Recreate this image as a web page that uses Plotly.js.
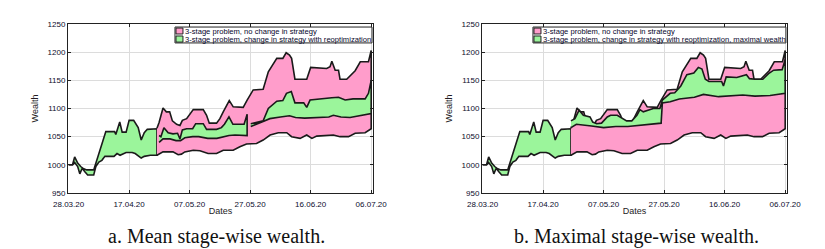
<!DOCTYPE html>
<html>
<head>
<meta charset="utf-8">
<script src="https://cdn.plot.ly/plotly-3.0.1.min.js"></script>
<style>html,body{margin:0;padding:0;background:#fff;}#chart{width:825px;height:249px;}</style>
</head>
<body>
<div id="chart"></div>
<script>
// Days since 28.03.20
const tickVals = [0, 20, 40, 60, 80, 100];
const tickText = ['28.03.20', '17.04.20', '07.05.20', '27.05.20', '16.06.20', '06.07.20'];
const yTicks = [950, 1000, 1050, 1100, 1150, 1200, 1250];

const legendNames = ['3-stage problem, no change in strategy',
  '3-stage problem, change in strategy with reoptimization'];
const legendNamesMax = ['3-stage problem, no change in strategy',
  '3-stage problem, change in strategy with reoptimization, maximal wealth'];
const captions = ['a. Mean stage-wise wealth.', 'b. Maximal stage-wise wealth.'];

// Phase 1 (common green band)
const green1UpX = [0, 1.3, 2, 3, 4, 5, 6, 8.3, 9, 10, 11, 12.3, 15.2, 15.6, 16.9, 17.7, 19, 20, 21.5, 23, 24, 25, 26, 29.2];
const green1UpY = [1000, 1000, 1014, 1003, 997, 993, 991, 991, 1003, 1020, 1040, 1059, 1059, 1054, 1076, 1058, 1058, 1079, 1079, 1066, 1044, 1057, 1063, 1064];
const green1LoX = [0, 1.3, 2, 3, 3.7, 4.5, 5.3, 6.3, 8.3, 9, 10, 11, 12, 15, 16, 17, 19, 21, 22, 24, 25, 27, 29.2];
const green1LoY = [1000, 1000, 1004, 997, 984, 994, 988, 982, 982, 997, 1005, 1008, 1015, 1015, 1020, 1017, 1022, 1022, 1020, 1012, 1015, 1017, 1017];

// No change in strategy (pink band, both panels)
const pinkUpX = [29.2, 29.9, 31.2, 32.3, 33.4, 34.3, 35.7, 36.8, 37.6, 39, 41.2, 44.5, 45.6, 46.5, 48.9, 50, 51.1, 53.1, 54.4, 57.7, 59, 61, 64.3, 66, 68.8, 70.8, 71.9, 73, 73.7, 74.8, 78.7, 80, 85.3, 86.4, 87, 88.1, 89.2, 89.7, 91.9, 94.7, 96.4, 99.1, 100];
const pinkUpY = [1065, 1075, 1101, 1094, 1094, 1078, 1072, 1070, 1079, 1082, 1098, 1098, 1088, 1074, 1074, 1082, 1094, 1114, 1103, 1102, 1115, 1133, 1134, 1165, 1189, 1189, 1199, 1195, 1189, 1152, 1152, 1173, 1171, 1174, 1184, 1168, 1168, 1152, 1152, 1167, 1183, 1183, 1203];
const pinkLoX = [29.2, 31.2, 34.5, 36.2, 37.3, 38.4, 41.2, 43.4, 46.1, 48.9, 51.1, 54.4, 56.6, 58.8, 62.1, 64.3, 66.6, 69.3, 72.1, 73.7, 76.5, 78.7, 80.4, 82, 87.5, 89.7, 92.5, 94.7, 98, 100];
const pinkLoY = [1017, 1023, 1023, 1018, 1019, 1023, 1026, 1025, 1020, 1020, 1026, 1026, 1032, 1037, 1038, 1044, 1053, 1057, 1057, 1050, 1047, 1053, 1047, 1051, 1053, 1050, 1050, 1056, 1057, 1064];

// Change with reoptimization, mean (two segments)
const g2aUpX = [29.9, 30.5, 31.5, 32.9, 34.5, 36, 36.8, 37.6, 39, 41, 42, 44.5, 45.6, 48.9, 50.5, 51.5, 53, 54.3, 58, 58.8, 59];
const g2aUpY = [1052, 1050, 1066, 1057, 1055, 1056, 1046, 1062, 1064, 1064, 1073, 1073, 1063, 1063, 1066, 1072, 1085, 1072, 1072, 1090, 1090];
const g2aLoX = [29.9, 31.2, 33.5, 35.5, 37, 38.4, 41, 43, 46, 49, 51, 53, 55, 59];
const g2aLoY = [1040, 1046, 1046, 1043, 1043, 1048, 1050, 1050, 1047, 1047, 1050, 1052, 1053, 1052];
const g2bUpX = [60.2, 62, 64.3, 66, 68.8, 70.8, 72, 73.6, 74.8, 77.7, 78.7, 79.8, 84, 87, 89.2, 91.4, 94, 98, 99.1, 100];
const g2bUpY = [1073, 1075, 1078, 1100, 1113, 1114, 1127, 1130, 1110, 1110, 1102, 1115, 1118, 1119, 1120, 1115, 1117, 1117, 1127, 1150];
const g2bLoX = [60.2, 62, 64.3, 66.5, 70, 73, 75, 78, 82, 86, 87.5, 90, 93, 96, 100];
const g2bLoY = [1068, 1072, 1077, 1082, 1085, 1087, 1084, 1083, 1084, 1085, 1088, 1085, 1084, 1087, 1091];

// Change with reoptimization, maximal wealth
const gMaxUpX = [29.2, 30.5, 31.9, 33.3, 35.5, 36.4, 37.7, 39.3, 41.2, 42.3, 44.5, 46.6, 47.6, 49.3, 51, 52, 53.1, 56.4, 58.6, 59.4, 62, 63.5, 65.5, 67.5, 69.8, 71.3, 72.5, 73.6, 74.8, 79, 79.6, 80.5, 84, 87.2, 88.2, 90, 92.6, 94.5, 96.2, 99, 100];
const gMaxUpY = [1078, 1082, 1097, 1088, 1085, 1076, 1073, 1074, 1085, 1088, 1088, 1082, 1078, 1078, 1088, 1098, 1094, 1100, 1100, 1115, 1127, 1128, 1140, 1160, 1163, 1173, 1170, 1152, 1148, 1148, 1140, 1156, 1155, 1160, 1153, 1152, 1152, 1162, 1168, 1169, 1187];
const gMaxLoX = [29.2, 31, 33.3, 36, 40, 44, 48, 52, 57, 59, 59.4, 62, 65, 70, 73, 75, 78, 86, 90, 95, 100];
const gMaxLoY = [1066, 1072, 1071, 1069, 1066, 1068, 1068, 1071, 1073, 1074, 1110, 1112, 1117, 1120, 1125, 1123, 1121, 1124, 1122, 1123, 1127];

const PINK = '#ff9dcb';
const GREEN = '#9bf59b';
const EDGE = '#1a1a1a';

function band(upX, upY, loX, loY, color, xa, ya) {
  return {
    type: 'scatter', mode: 'lines',
    x: upX.concat(loX.slice().reverse()),
    y: upY.concat(loY.slice().reverse()),
    fill: 'toself', fillcolor: color,
    line: {color: EDGE, width: 1.6},
    xaxis: xa, yaxis: ya, showlegend: false, hoverinfo: 'skip'
  };
}

const traces = [
  band(green1UpX, green1UpY, green1LoX, green1LoY, GREEN, 'x', 'y'),
  band(pinkUpX, pinkUpY, pinkLoX, pinkLoY, PINK, 'x', 'y'),
  band(g2aUpX, g2aUpY, g2aLoX, g2aLoY, GREEN, 'x', 'y'),
  band(g2bUpX, g2bUpY, g2bLoX, g2bLoY, GREEN, 'x', 'y'),
  band(green1UpX, green1UpY, green1LoX, green1LoY, GREEN, 'x2', 'y2'),
  band(pinkUpX, pinkUpY, pinkLoX, pinkLoY, PINK, 'x2', 'y2'),
  band(gMaxUpX, gMaxUpY, gMaxLoX, gMaxLoY, GREEN, 'x2', 'y2')
];

const tickFont = {family: 'Liberation Sans, Arial, sans-serif', size: 8, color: '#0c0c2c'};
const titleFont = {family: 'Liberation Sans, Arial, sans-serif', size: 9, color: '#241c24'};

function xAxis(domain, anchor) {
  return {
    domain: domain, anchor: anchor, range: [-0.2, 100.6],
    tickmode: 'array', tickvals: tickVals, ticktext: tickText,
    showgrid: true, gridcolor: '#dcdcdc', gridwidth: 1,
    showline: true, linecolor: '#222', linewidth: 1, mirror: 'ticks',
    ticks: 'inside', ticklen: 3, tickcolor: '#222',
    ticklabelstandoff: 3,
    tickfont: tickFont, zeroline: false,
    title: {text: 'Dates', font: titleFont, standoff: 0}
  };
}
function yAxis(anchor) {
  return {
    anchor: anchor, domain: [0, 1], range: [950, 1250],
    tickmode: 'array', tickvals: yTicks,
    showgrid: true, gridcolor: '#dcdcdc', gridwidth: 1,
    showline: true, linecolor: '#222', linewidth: 1, mirror: 'ticks',
    ticks: 'inside', ticklen: 3, tickcolor: '#222',
    tickfont: tickFont, zeroline: false,
    title: {text: 'Wealth', font: titleFont, standoff: 7}
  };
}

// manual compact legends (paper coords)
const shapes = [];
const annotations = [];
function legend(x0, x1, names) {
  shapes.push({type: 'rect', xref: 'paper', yref: 'paper', x0: x0, x1: x1, y0: 0.888, y1: 0.982,
    fillcolor: '#ffffff', line: {color: '#222', width: 1}, layer: 'above'});
  const cols = [PINK, GREEN];
  const rows = [[0.941, 0.976], [0.893, 0.929]];
  for (let i = 0; i < 2; i++) {
    shapes.push({type: 'rect', xref: 'paper', yref: 'paper', x0: x0 + 0.0014, x1: x0 + 0.0111,
      y0: rows[i][0], y1: rows[i][1], fillcolor: cols[i], line: {color: '#222', width: 1}, layer: 'above'});
    annotations.push({xref: 'paper', yref: 'paper', x: x0 + 0.0118, y: (rows[i][0] + rows[i][1]) / 2,
      xanchor: 'left', yanchor: 'middle', showarrow: false, text: names[i],
      font: {family: 'Liberation Sans, Arial, sans-serif', size: 7.6, color: '#06062a'}});
  }
}
legend(0.1488, 0.4228, legendNames);
legend(0.6467, 0.9985, legendNamesMax);

annotations.push({xref: 'paper', yref: 'paper', x: 0.206, y: -0.26, xanchor: 'center', yanchor: 'middle',
  showarrow: false, text: captions[0], font: {family: 'Liberation Serif, Times New Roman, serif', size: 20, color: '#111'}});
annotations.push({xref: 'paper', yref: 'paper', x: 0.791, y: -0.26, xanchor: 'center', yanchor: 'middle',
  showarrow: false, text: captions[1], font: {family: 'Liberation Serif, Times New Roman, serif', size: 20, color: '#111'}});

const layout = {
  width: 825, height: 249,
  margin: {l: 68, r: 38, t: 24, b: 56},
  paper_bgcolor: '#ffffff', plot_bgcolor: '#ffffff',
  showlegend: false,
  xaxis: xAxis([0, 0.4242], 'y'),
  yaxis: yAxis('x'),
  xaxis2: xAxis([0.5758, 1], 'y2'),
  yaxis2: yAxis('x2'),
  shapes: shapes,
  annotations: annotations
};

Plotly.newPlot('chart', traces, layout, {displayModeBar: false, staticPlot: true});
</script>
</body>
</html>
